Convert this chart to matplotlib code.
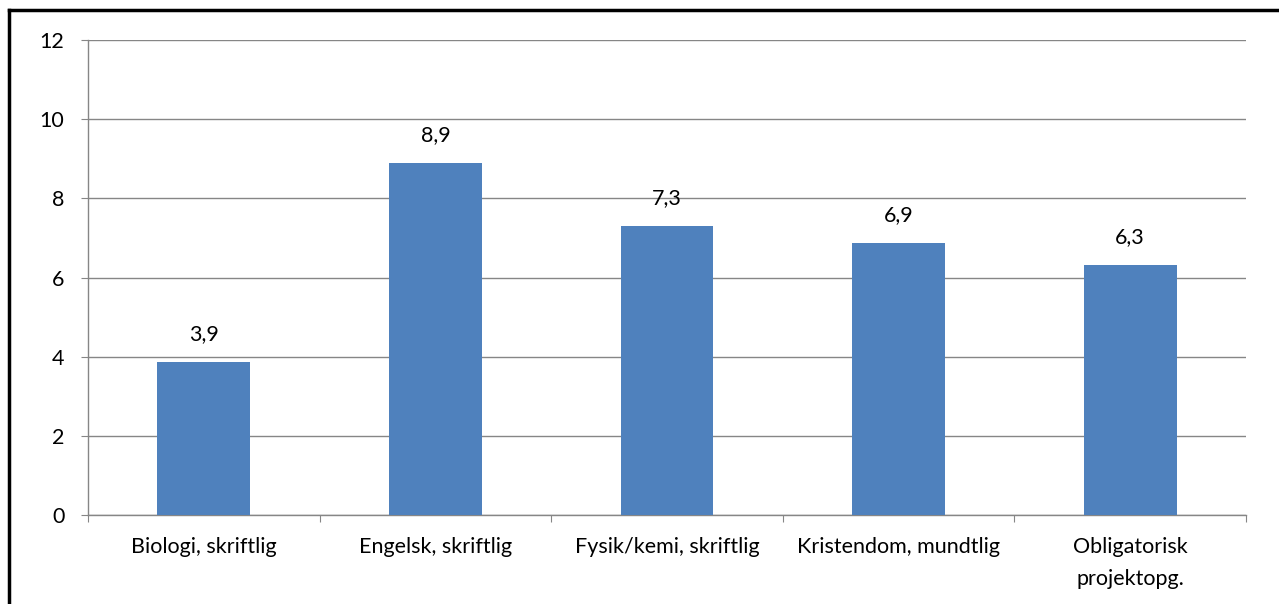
import matplotlib
matplotlib.use('Agg')
import matplotlib.pyplot as plt
from matplotlib.lines import Line2D

plt.rcParams['font.family'] = ['Lato', 'DejaVu Sans']

# data
categories = ['Biologi, skriftlig', 'Engelsk, skriftlig', 'Fysik/kemi, skriftlig',
              'Kristendom, mundtlig', 'Obligatorisk\nprojektopg.']
values = [3.86, 8.89, 7.30, 6.86, 6.32]
yticks = [0, 2, 4, 6, 8, 10, 12]

bar_color = '#4F81BD'
axis_grey = '#868686'
fs = 15.5

fig = plt.figure(figsize=(12.79, 6.04), dpi=100)
ax = fig.add_axes([88 / 1279, 89 / 604, (1246 - 88) / 1279, 475 / 604])

x = list(range(len(categories)))
ax.bar(x, values, width=0.4, color=bar_color, zorder=3)

for xi, v in zip(x, values):
    ax.annotate(f'{v:.1f}'.replace('.', ','), (xi, v), xytext=(0, 13),
                textcoords='offset points', ha='center', va='bottom', fontsize=fs)

ax.set_xlim(-0.5, len(categories) - 0.5)
ax.set_ylim(0, 12)
ax.set_yticks(yticks)
ax.set_yticklabels([str(t) for t in yticks], fontsize=fs)
ax.yaxis.grid(True, color=axis_grey, linewidth=1, zorder=0)

# category labels sit between the boundary ticks
ax.set_xticks([i - 0.5 for i in range(len(categories) + 1)])
ax.set_xticklabels([])
ax.set_xticks(x, minor=True)
ax.set_xticklabels(categories, minor=True, fontsize=fs, linespacing=1.75)
ax.tick_params(axis='x', which='minor', length=0, pad=16)
ax.tick_params(axis='x', which='major', length=5, color=axis_grey, direction='out')
ax.tick_params(axis='y', length=5, color=axis_grey, pad=12)

for side in ['top', 'right']:
    ax.spines[side].set_visible(False)
for side in ['left', 'bottom']:
    ax.spines[side].set_color(axis_grey)
    ax.spines[side].set_linewidth(1)

# black frame around the chart (runs off the right and bottom edges)
W, H = 1279, 604
fig.add_artist(Line2D([8.5 / W, 8.5 / W], [-0.1, 1 - 10 / H], color='black', linewidth=2.5,
                      transform=fig.transFigure))
fig.add_artist(Line2D([8.5 / W, 1.1], [1 - 10 / H, 1 - 10 / H], color='black', linewidth=2.5,
                      transform=fig.transFigure))

fig.savefig('out.png', dpi=100)
